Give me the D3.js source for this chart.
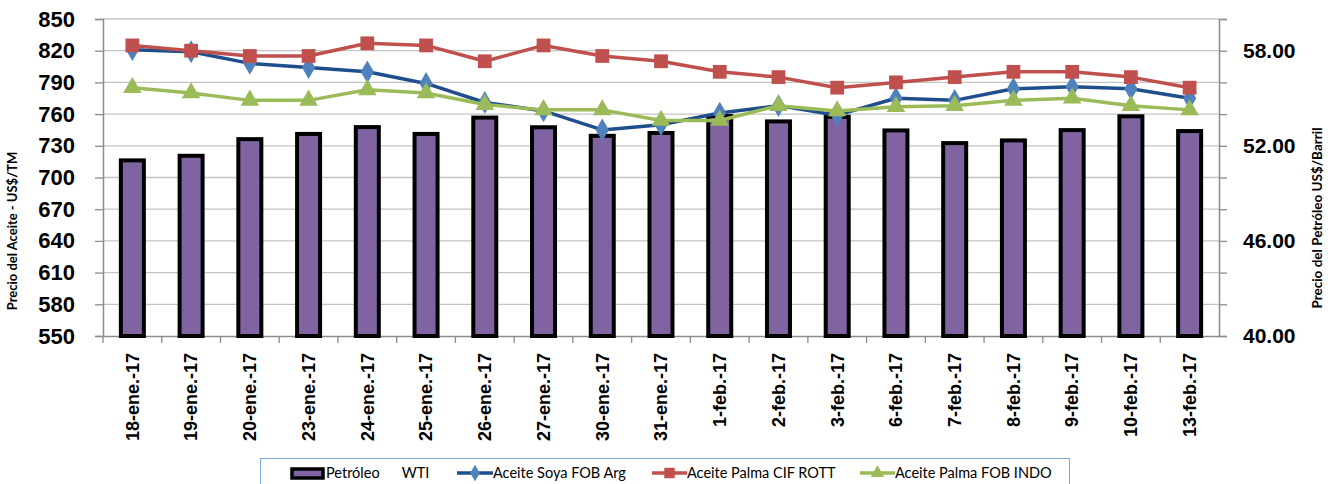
<!DOCTYPE html>
<html>
<head>
<meta charset="utf-8">
<script src="https://cdn.jsdelivr.net/npm/d3@7"></script>
<style>
  body { margin: 0; background: #fff; }
  svg { display: block; font-family: Lato, "Liberation Sans", sans-serif; }
</style>
</head>
<body>
<div id="chart"></div>
<script>
// Chart data
const fechas = ["18-ene.-17", "19-ene.-17", "20-ene.-17", "23-ene.-17", "24-ene.-17", "25-ene.-17",
    "26-ene.-17", "27-ene.-17", "30-ene.-17", "31-ene.-17", "1-feb.-17", "2-feb.-17", "3-feb.-17",
    "6-feb.-17", "7-feb.-17", "8-feb.-17", "9-feb.-17", "10-feb.-17", "13-feb.-17"];
const petroleoWTI = [51.08, 51.37, 52.42, 52.75, 53.18, 52.75, 53.78, 53.17, 52.63, 52.81,
    53.88, 53.54, 53.83, 52.97, 52.17, 52.34, 52.99, 53.86, 52.93];
const soyaFobArg = [821, 819, 808, 804, 800, 789, 771, 763, 745, 750, 761, 768, 759, 775, 773,
    784, 786, 784, 775];
const palmaCifRott = [825, 820, 815, 815, 827, 825, 810, 825, 815, 810, 800, 795, 785, 790, 795,
    800, 800, 795, 785];
const palmaFobIndo = [785, 780, 773, 773, 783, 780, 769, 764, 764, 754, 754, 768, 763, 767, 768,
    773, 775, 768, 764];
const ticksAceite = [550, 580, 610, 640, 670, 700, 730, 760, 790, 820, 850];
const ticksPetroleo = [40, 42, 44, 46, 48, 50, 52, 54, 56, 58, 60];
const labelsPetroleo = [40, 46, 52, 58];

const W = 1333, H = 484;
const plot = { left: 103, right: 1219, top: 19, bottom: 336 };

const svg = d3.select("#chart").append("svg")
    .attr("width", W)
    .attr("height", H);

const x = d3.scaleBand()
    .domain(fechas)
    .range([plot.left, plot.right]);

const yL = d3.scaleLinear().domain([550, 850]).range([plot.bottom, plot.top]);
const yR = d3.scaleLinear().domain([40, 60]).range([plot.bottom, plot.top]);

// Gridlines
svg.append("g")
    .selectAll("line")
    .data(ticksAceite.slice(1))
    .join("line")
    .attr("x1", plot.left).attr("x2", plot.right)
    .attr("y1", d => yL(d)).attr("y2", d => yL(d))
    .attr("stroke", "#c4c4c4")
    .attr("stroke-width", 1.3);

// Left axis
const axisL = svg.append("g")
    .attr("transform", `translate(${plot.left},0)`)
    .call(d3.axisLeft(yL).tickValues(ticksAceite).tickSize(8).tickPadding(20));
axisL.select(".domain").attr("stroke", "#8c8c8c").attr("stroke-width", 1.5);
axisL.selectAll(".tick line").attr("stroke", "#8c8c8c").attr("stroke-width", 1.3);
axisL.selectAll("text")
    .attr("fill", "#000")
    .style("font-size", "22px")
    .style("font-weight", "bold");

// Right axis
const axisR = svg.append("g")
    .attr("transform", `translate(${plot.right},0)`)
    .call(d3.axisRight(yR).tickValues(ticksPetroleo).tickSize(8).tickPadding(16)
        .tickFormat(d => labelsPetroleo.includes(d) ? d3.format(".2f")(d) : ""));
axisR.select(".domain").attr("stroke", "#8c8c8c").attr("stroke-width", 1.5);
axisR.selectAll(".tick line").attr("stroke", "#8c8c8c").attr("stroke-width", 1.3);
axisR.selectAll("text")
    .attr("fill", "#000")
    .style("font-size", "21px")
    .style("font-weight", "bold");

// Bottom axis
const axisB = svg.append("g")
    .attr("transform", `translate(0,${plot.bottom})`)
    .call(d3.axisBottom(x).tickSize(0).tickPadding(0));
axisB.select(".domain").attr("stroke", "#8c8c8c").attr("stroke-width", 1.5);
axisB.selectAll("text")
    .attr("fill", "#000")
    .attr("transform", "rotate(-90)")
    .attr("text-anchor", "end")
    .attr("x", -17)
    .attr("y", 0)
    .attr("dy", "0.35em")
    .style("font-size", "18px")
    .style("font-weight", "bold");
svg.append("g")
    .selectAll("line")
    .data(fechas)
    .join("line")
    .attr("x1", d => x(d)).attr("x2", d => x(d))
    .attr("y1", plot.bottom).attr("y2", plot.bottom + 7)
    .attr("stroke", "#8c8c8c")
    .attr("stroke-width", 1.3);

// Bars (right axis)
const barW = 23;
svg.append("g")
    .selectAll("rect")
    .data(petroleoWTI)
    .join("rect")
    .attr("x", (d, i) => x(fechas[i]) + x.bandwidth() / 2 - barW / 2)
    .attr("y", d => yR(d))
    .attr("width", barW)
    .attr("height", d => plot.bottom - yR(d))
    .attr("fill", "#8064a2")
    .attr("stroke", "#000")
    .attr("stroke-width", 4);

// Lines (left axis)
const cx = i => x(fechas[i]) + x.bandwidth() / 2;
const series = [
    { name: "Aceite Soya FOB Arg", values: soyaFobArg, line: "#1f4e8c", marker: "#4f81bd", symbol: d3.symbolDiamond },
    { name: "Aceite Palma CIF ROTT", values: palmaCifRott, line: "#c0504d", marker: "#c0504d", symbol: d3.symbolSquare },
    { name: "Aceite Palma FOB INDO", values: palmaFobIndo, line: "#9bbb59", marker: "#9bbb59", symbol: d3.symbolTriangle }
];
const lineGen = d3.line().x((d, i) => cx(i)).y(d => yL(d));

series.forEach(s => {
    const g = svg.append("g");
    g.append("path")
        .attr("d", lineGen(s.values))
        .attr("fill", "none")
        .attr("stroke", s.line)
        .attr("stroke-width", 3.5)
        .attr("stroke-linejoin", "round");
    g.selectAll("path.marker")
        .data(s.values)
        .join("path")
        .attr("class", "marker")
        .attr("transform", (d, i) => `translate(${cx(i)},${yL(d)})`)
        .attr("d", d3.symbol().type(s.symbol).size(s.symbol === d3.symbolSquare ? 190 : 150))
        .attr("fill", s.marker);
});

// Axis titles
svg.append("text")
    .attr("transform", "translate(17,231) rotate(-90)")
    .attr("text-anchor", "middle")
    .style("font-size", "13px")
    .style("font-weight", "bold")
    .text("Precio del Aceite - US$/TM");
svg.append("text")
    .attr("transform", "translate(1322,218) rotate(-90)")
    .attr("text-anchor", "middle")
    .style("font-size", "13.5px")
    .style("font-weight", "bold")
    .text("Precio del Petróleo US$/Barril");

// Legend
const legend = svg.append("g");
legend.append("rect")
    .attr("x", 260.5).attr("y", 458.5)
    .attr("width", 809).attr("height", 40)
    .attr("fill", "#fff")
    .attr("stroke", "#7ea6d8")
    .attr("stroke-width", 1);
legend.append("rect")
    .attr("x", 292).attr("y", 469)
    .attr("width", 31).attr("height", 9)
    .attr("fill", "#8064a2")
    .attr("stroke", "#000")
    .attr("stroke-width", 3.5);
legend.append("text")
    .attr("x", 326).attr("y", 478)
    .style("font-size", "14.5px")
    .style("white-space", "pre")
    .text("Petróleo      WTI");

const legendItems = [
    { s: series[0], x0: 457, tx: 493 },
    { s: series[1], x0: 652, tx: 687 },
    { s: series[2], x0: 860, tx: 895 }
];
legendItems.forEach(it => {
    legend.append("line")
        .attr("x1", it.x0).attr("x2", it.tx)
        .attr("y1", 473).attr("y2", 473)
        .attr("stroke", it.s.line)
        .attr("stroke-width", 3.5);
    legend.append("path")
        .attr("transform", `translate(${(it.x0 + it.tx) / 2},473)`)
        .attr("d", d3.symbol().type(it.s.symbol).size(it.s.symbol === d3.symbolSquare ? 110 : 80))
        .attr("fill", it.s.marker);
    legend.append("text")
        .attr("x", it.tx).attr("y", 478)
        .style("font-size", "14.5px")
        .text(it.s.name);
});
</script>
</body>
</html>
